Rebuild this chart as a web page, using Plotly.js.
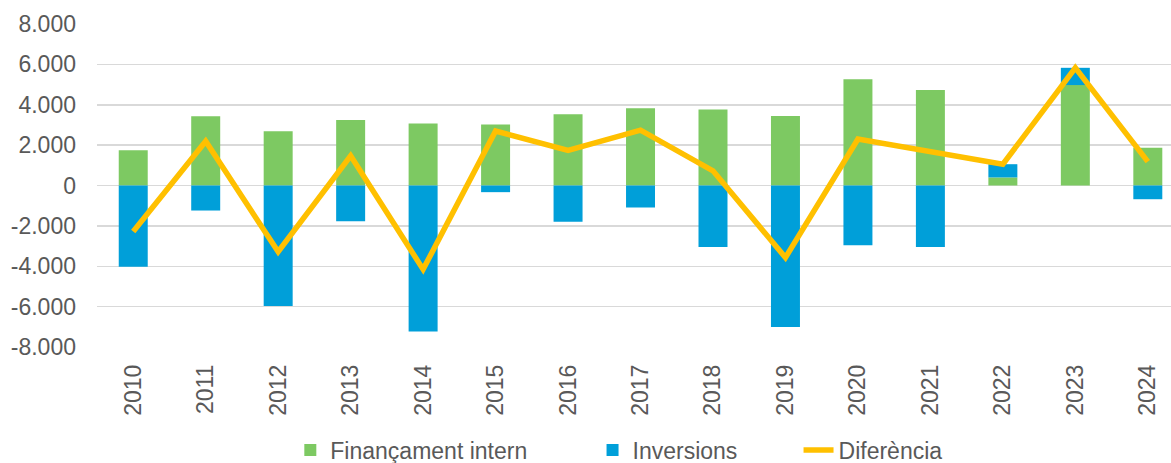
<!DOCTYPE html>
<html>
<head>
<meta charset="utf-8">
<script src="https://cdn.plot.ly/plotly-3.0.1.min.js"></script>
<style>html,body{margin:0;padding:0;background:#fff;}#chart{width:1171px;height:463px;}</style>
</head>
<body>
<div id="chart"></div>
<script>
const years = ["2010","2011","2012","2013","2014","2015","2016","2017","2018","2019","2020","2021","2022","2023","2024"];
const financamentIntern = [1750, 3430, 2690, 3240, 3075, 3025, 3530, 3830, 3770, 3440, 5260, 4730, 400, 4975, 1865];
const inversions = [-4030, -1240, -5970, -1770, -7230, -330, -1790, -1090, -3045, -7010, -2960, -3045, 655, 855, -680];
const diferencia = [-2280, 2190, -3280, 1470, -4155, 2695, 1740, 2740, 725, -3570, 2300, 1685, 1055, 5830, 1185];
const yTickVals = [-8000, -6000, -4000, -2000, 0, 2000, 4000, 6000, 8000];
const yTickText = ["-8.000", "-6.000", "-4.000", "-2.000", "0", "2.000", "4.000", "6.000", "8.000"];

const fontFam = '"Liberation Sans", Arial, sans-serif';
const txtColor = '#595959';

const traces = [
  {type:'bar', name:'Finançament intern', x:years, y:financamentIntern, width:0.4,
   marker:{color:'#7DC962'}, hoverinfo:'skip', legend:'legend'},
  {type:'bar', name:'Inversions', x:years, y:inversions, width:0.4,
   marker:{color:'#009FD9'}, hoverinfo:'skip', legend:'legend2'},
  {type:'scatter', mode:'lines', name:'Diferència', x:years, y:diferencia,
   line:{color:'#FFC000', width:5.5, shape:'linear'}, hoverinfo:'skip', legend:'legend3'}
];

function legendAt(xp) {
  return {orientation:'h', x:xp, xanchor:'left', xref:'paper', y:0.028, yref:'container', yanchor:'middle',
          font:{family:fontFam, size:23, color:txtColor}, bgcolor:'rgba(0,0,0,0)'};
}

const layout = {
  width:1171, height:463,
  margin:{l:97, r:0, t:24, b:116},
  paper_bgcolor:'#fff', plot_bgcolor:'#fff',
  barmode:'relative',
  font:{family:fontFam, size:23, color:txtColor},
  showlegend:true,
  legend:legendAt(0.180),
  legend2:legendAt(0.4614),
  legend3:legendAt(0.6532),
  xaxis:{type:'category', range:[-0.5, 14.32], tickangle:-90, showgrid:false, zeroline:false,
         showline:false, ticks:'', ticklabelstandoff:12, fixedrange:true, automargin:false,
         tickfont:{family:fontFam, size:23, color:txtColor}},
  yaxis:{range:[-8000, 8000], tickvals:yTickVals, ticktext:yTickText, showgrid:true,
         gridcolor:'#D9D9D9', gridwidth:1.5, zeroline:false, showline:false, ticks:'',
         ticklabelstandoff:20, fixedrange:true, automargin:false,
         tickfont:{family:fontFam, size:23, color:txtColor}}
};

Plotly.newPlot('chart', traces, layout, {displayModeBar:false, staticPlot:true});
</script>
</body>
</html>
